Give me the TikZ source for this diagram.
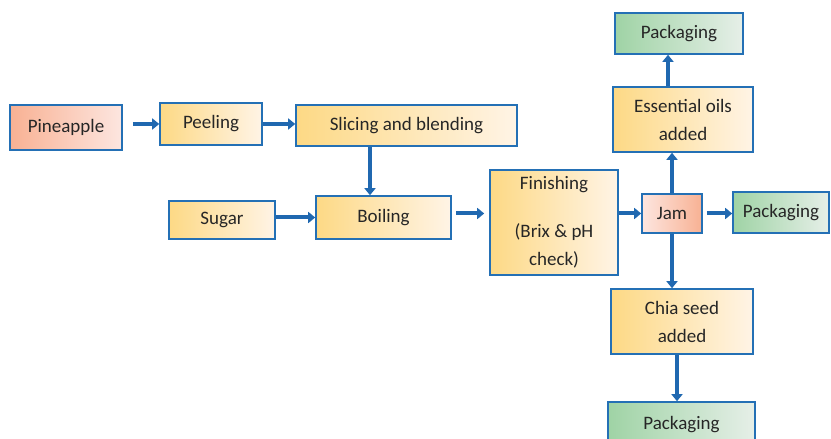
\documentclass[tikz,border=0pt]{standalone}
\usepackage{fontspec}
\setmainfont{Carlito}
\usetikzlibrary{arrows.meta}
\definecolor{bordblue}{HTML}{2470B5}
\definecolor{arrblue}{HTML}{2068B0}
\definecolor{yelL}{HTML}{FDD985}
\definecolor{yelR}{HTML}{FFF4E6}
\definecolor{orgL}{HTML}{F8B193}
\definecolor{orgR}{HTML}{FDE6E0}
\definecolor{grnL}{HTML}{9FD3A5}
\definecolor{grnR}{HTML}{E6EFE8}
\tikzset{
  box/.style={draw=bordblue, line width=1.6pt, inner sep=2pt, align=center,
    font=\fontsize{19pt}{28pt}\selectfont, text=black!85},
  ybox/.style={box, left color=yelL, right color=yelR},
  obox/.style={box, left color=orgL, right color=orgR},
  jbox/.style={box, left color=orgR, right color=orgL},
  gbox/.style={box, left color=grnL, right color=grnR},
  flow/.style={draw=arrblue, line width=4pt, -{Triangle[length=7pt,width=11pt]}}
}
\begin{document}
\begin{tikzpicture}[x=1pt,y=1pt]
\useasboundingbox (0,0) rectangle (831,439);
\clip (0,0) rectangle (831,439);
\node[obox, minimum width=112pt, minimum height=45pt] (pine) at (66,311.5) {Pineapple};
\node[ybox, minimum width=102pt, minimum height=42pt] (peel) at (211,315) {Peeling};
\node[ybox, minimum width=221pt, minimum height=41pt] (slice) at (406.5,313.5) {Slicing and blending};
\node[ybox, minimum width=106pt, minimum height=38pt] (sugar) at (222,219) {Sugar};
\node[ybox, minimum width=135pt, minimum height=43pt] (boil) at (383.5,221.5) {Boiling};
\node[ybox, minimum width=128pt, minimum height=105pt] (fin) at (554,216.5) {Finishing\\[20pt](Brix \& pH\\check)};
\node[jbox, minimum width=60pt, minimum height=39pt] (jam) at (672,225.5) {Jam};
\node[gbox, minimum width=96pt, minimum height=41pt] (packr) at (781,226.5) {Packaging};
\node[ybox, minimum width=140pt, minimum height=65pt] (oils) at (683,319.5) {Essential oils\\added};
\node[gbox, minimum width=128pt, minimum height=41pt] (packt) at (679,405.5) {Packaging};
\node[ybox, minimum width=142pt, minimum height=65pt] (chia) at (682,117.5) {Chia seed\\added};
\node[gbox, minimum width=147pt, minimum height=46pt] (packb) at (681.5,14) {Packaging};
\draw[flow] ([xshift=10pt]pine.east |- peel.west) -- (peel.west);
\draw[flow] (peel.east) -- (slice.west |- peel.east);
\draw[flow] ([xshift=-13.5pt]boil.north |- slice.south) -- ([xshift=-13.5pt]boil.north);
\draw[flow] (sugar.east |- boil.west) -- (boil.west);
\draw[flow] ([xshift=4pt]boil.east |- jam.west) -- ([xshift=-5pt]fin.west |- jam.west);
\draw[flow] (fin.east |- jam.west) -- (jam.west);
\draw[flow] ([xshift=4pt]jam.east) -- (packr.west |- jam.east);
\draw[flow] (jam.north) -- (jam.north |- oils.south);
\draw[flow] ([xshift=-11pt]packt.south |- oils.north) -- ([xshift=-11pt]packt.south);
\draw[flow] (jam.south) -- (jam.south |- chia.north);
\draw[flow] ([xshift=-5pt]chia.south) -- ([xshift=-5pt]chia.south |- packb.north);
\end{tikzpicture}
\end{document}
